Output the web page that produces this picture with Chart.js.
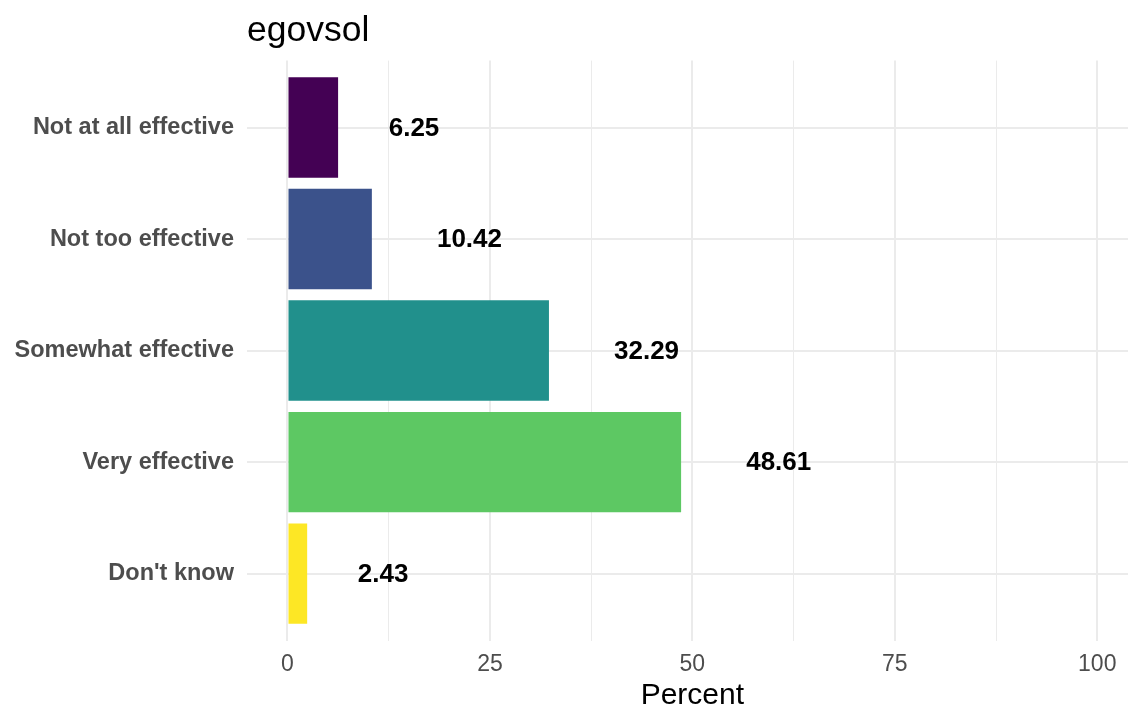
<!DOCTYPE html>
<html>
<head>
<meta charset="utf-8">
<script src="https://cdn.jsdelivr.net/npm/chart.js@4"></script>
<style>
  body { margin: 0; background: #fff; }
  canvas { display: block; }
</style>
</head>
<body>
<canvas id="myChart" width="1128" height="711"></canvas>
<script>
var categories = ["Not at all effective", "Not too effective", "Somewhat effective", "Very effective", "Don't know"];
var percents = [6.25, 10.42, 32.29, 48.61, 2.43];
var barColors = ["#440154", "#3B528B", "#21908C", "#5DC863", "#FDE725"];
var xTickValues = [0, 12.5, 25, 37.5, 50, 62.5, 75, 87.5, 100];
var xTickLabels = ["0", "", "25", "", "50", "", "75", "", "100"];
var xTitle = "Percent";

var FONT = "'Liberation Sans', Arial, sans-serif";

// value labels sit one text-width to the right of the bar end (like hjust = -1)
// plus the axis title, centred on the full panel (which runs past the picture edge)
var valueLabels = {
  id: 'valueLabels',
  afterDatasetsDraw: function(chart) {
    var ctx = chart.ctx;
    var meta = chart.getDatasetMeta(0);
    ctx.save();
    ctx.font = "bold 26px " + FONT;
    ctx.fillStyle = "#000";
    ctx.textAlign = "left";
    ctx.textBaseline = "middle";
    meta.data.forEach(function(bar, i) {
      var txt = percents[i].toFixed(2);
      var w = ctx.measureText(txt).width;
      ctx.fillText(txt, bar.x + w, bar.y + 1);
    });

    var xs = chart.scales.x;
    ctx.font = "30px " + FONT;
    ctx.textAlign = "center";
    ctx.fillText(xTitle, xs.getPixelForValue(50), chart.height - 15);
    ctx.restore();
  }
};

var points = [];
for (var i = 0; i < categories.length; i++) {
  points.push({ x: percents[i], y: i });
}

var ctx = document.getElementById('myChart').getContext('2d');
var myChart = new Chart(ctx, {
  type: 'bar',
  data: {
    datasets: [{
      data: points,
      backgroundColor: barColors,
      borderWidth: 0,
      barPercentage: 0.9,
      categoryPercentage: 1
    }]
  },
  plugins: [valueLabels],
  options: {
    indexAxis: 'y',
    responsive: false,
    animation: false,
    layout: { padding: 0 },
    plugins: {
      legend: { display: false },
      tooltip: { enabled: false },
      title: {
        display: true,
        text: 'egovsol',
        align: 'start',
        fullSize: false,
        color: '#000',
        font: { family: FONT, size: 35.5, weight: 'normal' },
        padding: { top: 10, bottom: 8 }
      }
    },
    scales: {
      x: {
        type: 'linear',
        min: -5,
        max: 103.8,
        afterBuildTicks: function(scale) {
          scale.ticks = xTickValues.map(function(v) { return { value: v }; });
        },
        afterFit: function(scale) { scale.height = 70.5; },
        border: { display: false },
        grid: {
          color: '#EBEBEB',
          lineWidth: function(c) { return c.tick && c.tick.value % 25 === 0 ? 2 : 1; },
          drawTicks: false
        },
        ticks: {
          autoSkip: false,
          maxRotation: 0,
          padding: 10,
          color: '#4d4d4d',
          font: { family: FONT, size: 23 },
          callback: function(value, index) { return xTickLabels[index]; }
        },
        title: { display: false }
      },
      y: {
        type: 'linear',
        reverse: true,
        offset: false,
        min: -0.6,
        max: 4.6,
        afterBuildTicks: function(scale) {
          scale.ticks = categories.map(function(c, i) { return { value: i }; });
        },
        afterFit: function(scale) { scale.width = 247; },
        border: { display: false },
        grid: {
          color: '#EBEBEB',
          lineWidth: 2,
          offset: false,
          drawTicks: false
        },
        ticks: {
          autoSkip: false,
          padding: 13,
          color: '#4d4d4d',
          font: { family: FONT, size: 23.5, weight: 'bold' },
          callback: function(value) { return categories[value]; }
        }
      }
    }
  }
});
</script>
</body>
</html>
